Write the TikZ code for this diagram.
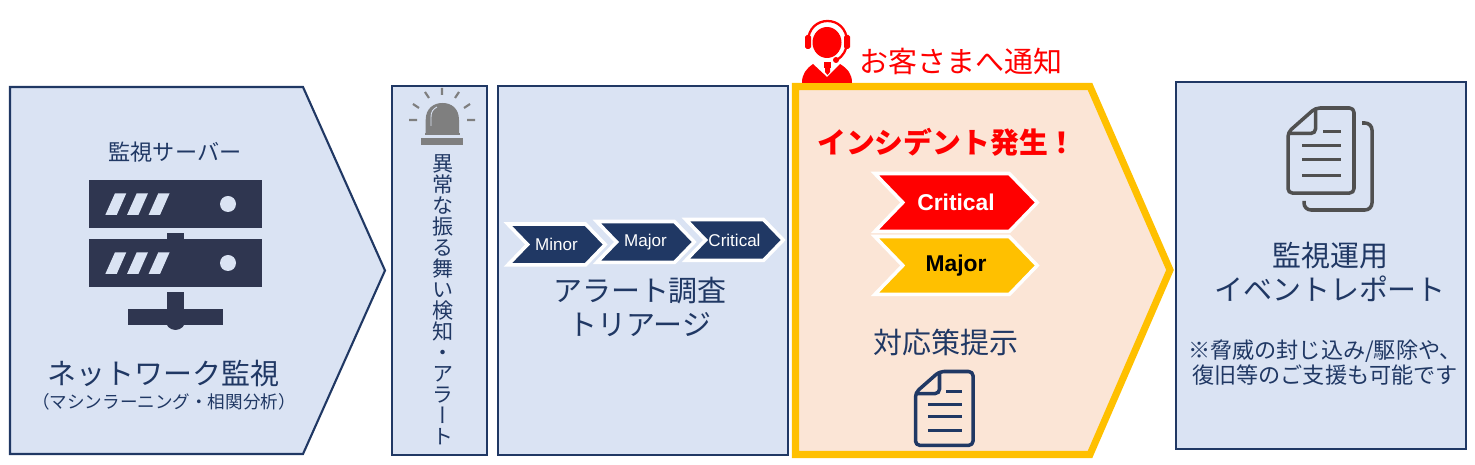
\documentclass[tikz,border=0pt]{standalone}
\usepackage{fontspec}
\setmainfont{Noto Sans CJK JP}
\newfontfamily\vertfont[RawFeature={+vert}]{Noto Sans CJK JP}
\newfontfamily\latinfont{Liberation Sans}
\usetikzlibrary{shapes.symbols}
\definecolor{navy}{HTML}{203864}
\definecolor{paleblue}{HTML}{DAE3F3}
\definecolor{paleorange}{HTML}{FBE5D6}
\definecolor{gold}{HTML}{FFC000}
\definecolor{slate}{HTML}{2F3650}
\definecolor{docgray}{HTML}{505050}
\definecolor{alarmgray}{HTML}{7F7F7F}
\tikzset{
  panel/.style={draw=navy, fill=paleblue, line width=1.2pt},
  label/.style={text=navy, inner sep=0pt, align=center, font=\fontsize{16.5}{18.7}\selectfont},
  sublabel/.style={text=navy, inner sep=0pt, align=center, font=\fontsize{12.6}{14.3}\selectfont},
  chev/.style={shape=signal, signal from=west, signal to=east, signal pointer angle=92,
    draw=white, line width=2pt, inner sep=0pt, outer sep=0pt},
  smallchev/.style={chev, fill=navy, text=white, minimum width=1.95cm, minimum height=0.82cm,
    font=\latinfont\fontsize{9.7}{11}\selectfont},
  bigchev/.style={chev, minimum width=3.25cm, minimum height=1.16cm,
    font=\latinfont\fontsize{13}{15}\bfseries\selectfont},
  docicon/.pic={
    \draw[pic actions, line width=2pt, rounded corners=2.5pt, line join=round]
      (0,22) -- (25,0) -- (60,0) -- (60,77) -- (0,77) -- cycle;
    \draw[pic actions, line width=2pt, rounded corners=2.5pt] (25,0) -- (25,23) -- (0,23);
    \draw[pic actions, line width=1.7pt] (32,21) -- (48,21);
    \foreach \rowy in {34,47,61} {
      \draw[pic actions, line width=1.7pt] (13,\rowy) -- (48,\rowy);
    }
  }
}

\begin{document}
\begin{tikzpicture}[x=0.02cm, y=-0.02cm]
\useasboundingbox (0,0) rectangle (1475,465);

% panels
\draw[panel] (10,87) -- (303,87) -- (385,270.5) -- (303,454) -- (10,454) -- cycle;
\draw[panel] (392,86) rectangle (487,455);
\draw[panel] (498,86) rectangle (788,455);
\draw[fill=paleorange, draw=gold, line width=4pt, miter limit=8]
  (795.5,86.5) -- (1090,86.5) -- (1170,270) -- (1090,454.5) -- (795.5,454.5) -- cycle;
\draw[panel] (1176,82) rectangle (1466,449);

% server
\node[sublabel] (servertitle) at (175,152) {監視サーバー};
\fill[slate] (89,180) rectangle (262,228);
\fill[slate] (89,239) rectangle (262,287);
\fill[slate] (167,233) rectangle (184,239);
\fill[slate] (167,292) rectangle (184,309);
\fill[slate] (128,309) rectangle (223,325);
\fill[slate] (175.5,320) circle[radius=10];
\foreach \rowy in {0,59} {
  \foreach \slotx in {0,21.7,43.3} {
    \fill[paleblue] (105.3+\slotx,215+\rowy) -- (116.7+\slotx,215+\rowy)
      -- (126.3+\slotx,193.3+\rowy) -- (115+\slotx,193.3+\rowy) -- cycle;
  }
  \fill[paleblue] (228,204+\rowy) circle[radius=8];
}
\node[label] (monitor) at (163.5,373) {ネットワーク監視};
\node[text=navy, inner sep=0pt, font=\fontsize{10}{11}\selectfont] (method) at (164,402)
  {（マシンラーニング・相関分析）};

% alarm
\fill[alarmgray] (425.7,133) -- (425.7,120) .. controls (425.7,108) and (434,103) .. (442.5,103)
  .. controls (451,103) and (459,108) .. (459,120) -- (459,133) -- cycle;
\fill[alarmgray] (425,133) rectangle (460,135);
\fill[alarmgray] (421,138) rectangle (463,145);
\draw[paleblue, line width=0.5pt] (431,126) -- (431,117) .. controls (431,112) and (433,109) .. (437,107);
\draw[alarmgray, line width=1.2pt] (409,120) -- (417,120) (467,120) -- (475,120)
  (413,104) -- (419,108) (470,104) -- (464,108) (425,92) -- (429,98) (459,92) -- (455,98)
  (442,88) -- (442,95);
\node[text=navy, inner sep=0pt, align=center, font=\vertfont\fontsize{12}{11.95}\selectfont]
  (alert) at (443,300) {異\\常\\な\\振\\る\\舞\\い\\検\\知\\・\\ア\\ラ\\ー\\ト};

% triage
\node[smallchev] (minor) at (556.5,244.5) {Minor};
\node[smallchev] (major) at (645.5,242) {Major};
\node[smallchev] (critical) at (734.5,240) {Critical};
\node[label] (triage) at (640,306.5) {アラート調査\\[0.6pt]トリアージ};

% incident
\fill[red] (827,42.5) ellipse[x radius=14.5, y radius=15.5];
\draw[red, line width=1.3pt] (808,42) .. controls (808,14) and (847,14) .. (847,42)
  .. controls (847,50) and (843,56) .. (837,60);
\fill[red, rounded corners=1pt] (805,35) rectangle (811,49);
\fill[red, rounded corners=1pt] (844,35) rectangle (850,49);
\fill[red] (836,60) circle[radius=3];
\fill[red] (824,62) rectangle (831,68);
\fill[red] (802,83) .. controls (802,74) and (806,69) .. (813,64) -- (827,77) -- (840,64)
  .. controls (848,69) and (852,74) .. (852,83) -- cycle;
\fill[red] (825,66) -- (830,66) -- (830,72) -- (827.5,75) -- (825,72) -- cycle;
\node[label, text=red] (notify) at (961,61) {お客さまへ通知};
\node[label, text=red, font=\fontsize{16.4}{18}\bfseries\selectfont] (incident) at (947,142) {インシデント発生！};
\node[bigchev, fill=red, text=white] (bigcritical) at (956,202.5) {Critical};
\node[bigchev, fill=gold, text=black] (bigmajor) at (956,265.5) {Major};
\node[label] (measure) at (946,342) {対応策提示};
\begin{scope}[shift={(915.5,371.5)}, x=0.0192cm, y=-0.0192cm]
\pic[navy] at (0,0) {docicon};
\end{scope}

% report
\begin{scope}[shift={(1288,108)}, x=0.022cm, y=-0.0221cm]
\pic[docgray] at (0,0) {docicon};
\end{scope}
\draw[docgray, line width=2pt, rounded corners=4pt] (1362,123) -- (1372,123) -- (1372,210)
  -- (1304,210) -- (1304,201);
\node[label] (report) at (1330,271.5) {監視運用\\[0.6pt]イベントレポート};
\node[sublabel] (support) at (1325,362.5) {※脅威の封じ込み/駆除や、\\復旧等のご支援も可能です};
\end{tikzpicture}
\end{document}
